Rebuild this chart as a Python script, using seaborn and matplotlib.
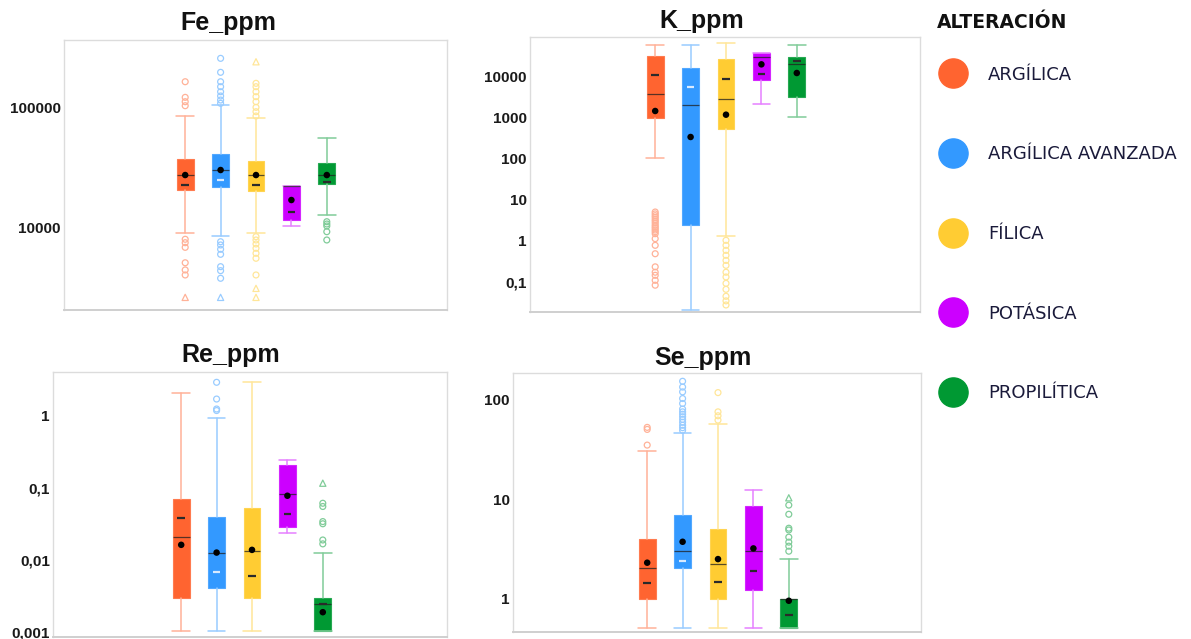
"""Diagramas de caja por tipo de alteración (Fe, K, Re, Se en ppm)."""

import math

import matplotlib.pyplot as plt
import numpy as np
import pandas as pd
import seaborn as sns
from matplotlib.lines import Line2D
from matplotlib.ticker import FixedLocator, FuncFormatter, LogLocator, NullFormatter

# ---------------------------------------------------------------- datos
GRUPOS = ["ARGÍLICA", "ARGÍLICA AVANZADA", "FÍLICA", "POTÁSICA", "PROPILÍTICA"]
COLORES = ["#FF6430", "#3399FF", "#FFCC33", "#CC00FF", "#009933"]

# Fe_ppm
FE_BIG_INF = [9040, 8590, 9040, 10390, 12800]
FE_Q1 = [20600, 21930, 20330, 11640, 23100]
FE_MEDIANA = [27400, 30150, 27400, 22240, 27400]
FE_Q3 = [37000, 40640, 36000, 22240, 34250]
FE_BIG_SUP = [84700, 103900, 81600, 22240, 55100]
FE_MEDIA = [27400, 30150, 27400, 17030, 27400]
FE_MEDIA_GEO = [22650, 24930, 22650, 13480, 24140]
FE_ATIPICOS = [
    [161800, 120200, 110600, 102500, 8070, 7560, 6920, 5160, 4500, 4090],
    [252500, 193500, 161800, 147200, 133700, 123300, 114200, 107300,
     7700, 7240, 6670, 6060, 4790, 4440, 3840],
    [157000, 147200, 133700, 121700, 110600, 99400, 91450, 84250,
     8480, 7960, 7380, 6800, 6180, 5620, 4090],
    [],
    [11270, 10790, 10390, 9320, 7960],
]
FE_EXTREMOS = [[2670], [2670], [236600, 3170, 2670], [], []]

# K_ppm
K_BIG_INF = [106, 0.0207, 1.28, 2190, 1040]
K_Q1 = [984, 2.38, 540, 8450, 3200]
K_MEDIANA = [3850, 2005, 2900, 30200, 20750]
K_Q3 = [31500, 16600, 27500, 38400, 30200]
K_BIG_SUP = [58400, 58400, 66400, 38400, 58400]
K_MEDIA = [1456, 338, 1183, 20000, 12300]
K_MEDIA_GEO = [10800, 5610, 8940, 11450, 24150]
K_ATIPICOS = [
    [5.0, 4.5, 4.07, 3.7, 3.3, 3.0, 2.7, 2.4, 2.19, 2.0, 1.82, 1.65, 1.48,
     1.12, 0.77, 0.48, 0.23, 0.17, 0.143, 0.108, 0.082],
    [],
    [1.02, 0.77, 0.58, 0.44, 0.33, 0.25, 0.17, 0.13, 0.091, 0.065, 0.044,
     0.034, 0.027],
    [],
    [],
]
K_EXTREMOS = [[], [], [], [], []]

# Re_ppm
RE_BIG_INF = [0.00102, 0.00102, 0.00102, 0.0233, 0.00102]
RE_Q1 = [0.00297, 0.00402, 0.00297, 0.0283, 0.00102]
RE_MEDIANA = [0.0209, 0.01256, 0.0131, 0.0822, 0.00241]
RE_Q3 = [0.0694, 0.039, 0.052, 0.209, 0.00292]
RE_BIG_SUP = [2.11, 0.93, 3.0, 0.244, 0.0123]
RE_MEDIA = [0.0161, 0.01256, 0.0137, 0.0776, 0.00186]
RE_MEDIA_GEO = [0.0377, 0.0067, 0.0060, 0.0434, 0.00241]
RE_ATIPICOS = [
    [],
    [2.94, 1.72, 1.25, 1.19],
    [],
    [],
    [0.061, 0.055, 0.0339, 0.0316, 0.0188, 0.0166],
]
RE_EXTREMOS = [[], [], [], [], [0.116]]

# Se_ppm
SE_BIG_INF = [0.505, 0.505, 0.505, 0.505, 0.505]
SE_Q1 = [0.993, 2.02, 0.993, 1.22, 0.505]
SE_MEDIANA = [2.02, 3.01, 2.21, 3.01, 0.993]
SE_Q3 = [3.97, 6.91, 4.97, 8.57, 0.993]
SE_BIG_SUP = [30.5, 46.2, 56.5, 12.2, 2.50]
SE_MEDIA = [2.30, 3.73, 2.50, 3.20, 0.955]
SE_MEDIA_GEO = [1.43, 2.41, 1.48, 1.91, 0.68]
SE_ATIPICOS = [
    [52.4, 50.0, 34.8],
    [152, 133, 119, 102, 91, 80, 75, 71, 67, 63, 59, 55, 52, 49],
    [117, 75, 68.5, 62],
    [],
    [8.7, 7.04, 5.1, 4.9, 4.15, 3.7, 3.37, 3.0],
]
SE_EXTREMOS = [[], [], [], [], [10.3]]

FE_TICKS = [10000, 100000]
K_TICKS = [0.1, 1, 10, 100, 1000, 10000]
RE_TICKS = [0.001, 0.01, 0.1, 1]
SE_TICKS = [1, 10, 100]

# ---------------------------------------------------------------- layout (px)
W, H = 1191, 639
SEP_PX = 35.4  # distancia entre cajas
PANELES = [
    # titulo, (izq, der, arriba, abajo), centro caja media, ylim, titulo (x, base)
    ("Fe_ppm", (64, 447, 40, 310), 256, (2100, 358000), (228, 30)),
    ("K_ppm", (530, 920, 37, 312), 726, (0.0182, 92900), (702, 28)),
    ("Re_ppm", (53, 447, 372, 637), 252, (0.00084, 4.09), (231, 362)),
    ("Se_ppm", (513, 921, 373, 632), 718, (0.464, 184), (703, 365)),
]
LEY_FS = 13


def _aclarar(color, f=0.5):
    rgb = np.array(plt.matplotlib.colors.to_rgb(color))
    return tuple(rgb + (1 - rgb) * f)


def _fmt(v, pos):
    if v >= 1:
        return f"{v:.0f}"
    dec = int(round(-math.log10(v)))
    return f"{v:.{dec}f}".replace(".", ",")


def _panel(ax, datos, ticks, ylim, xlim):
    big_inf, q1, med, q3, big_sup, media, geo, atip, extr = datos
    n = len(GRUPOS)
    pos = np.arange(n)
    stats = [
        dict(whislo=big_inf[i], q1=q1[i], med=med[i], q3=q3[i],
             whishi=big_sup[i], fliers=[])
        for i in range(n)
    ]
    ax.set_yscale("log")
    art = ax.bxp(stats, positions=pos, widths=0.48, capwidths=0.5,
                 patch_artist=True, showfliers=False,
                 medianprops=dict(color="#202020", linewidth=0.9, alpha=0.75),
                 whiskerprops=dict(linewidth=1.1),
                 capprops=dict(linewidth=1.1))
    for i, c in enumerate(COLORES):
        claro = _aclarar(c, 0.5)
        art["boxes"][i].set_facecolor(c)
        art["boxes"][i].set_edgecolor(_aclarar(c, 0.15))
        art["boxes"][i].set_linewidth(0.8)
        for k in (2 * i, 2 * i + 1):
            art["whiskers"][k].set_color(claro)
            art["caps"][k].set_color(claro)
        if atip[i]:
            ax.scatter(np.full(len(atip[i]), pos[i]), atip[i], s=18,
                       facecolors="none", edgecolors=claro, linewidths=0.9,
                       zorder=3)
        if extr[i]:
            ax.scatter(np.full(len(extr[i]), pos[i]), extr[i], s=20,
                       marker="^", facecolors="none", edgecolors=claro,
                       linewidths=0.9, zorder=3)

    df = pd.DataFrame({"pos": pos, "media": media, "geo": geo})
    sns.scatterplot(data=df, x="pos", y="media", color="black", s=22,
                    edgecolor="none", zorder=5, ax=ax, legend=False)
    col_geo = ["#d8eaff" if g == "ARGÍLICA AVANZADA" else "#2a2a2a"
               for g in GRUPOS]
    ax.scatter(pos, geo, marker="_", s=30, c=col_geo, linewidths=1.6,
               zorder=4)

    ax.set_xlim(*xlim)
    ax.set_ylim(*ylim)
    ax.set_xticks([])
    ax.set_xlabel("")
    ax.set_ylabel("")
    ax.yaxis.set_major_locator(FixedLocator(ticks))
    ax.yaxis.set_major_formatter(FuncFormatter(_fmt))
    ax.yaxis.set_minor_locator(LogLocator(base=10, subs=np.arange(2, 10)))
    ax.yaxis.set_minor_formatter(NullFormatter())
    ax.tick_params(axis="y", which="major", length=2, width=0.6,
                   color="#d0d0d0", pad=0.3, labelsize=11, labelcolor="#1a1a1a")
    ax.tick_params(axis="y", which="minor", length=2, width=0.5,
                   color="#e0e0e0")
    for lab in ax.get_yticklabels():
        lab.set_fontweight("bold")
    for s in ax.spines.values():
        s.set_color("#dcdcdc")
        s.set_linewidth(1.0)
    ax.spines["bottom"].set_color("#cfcfcf")
    ax.spines["bottom"].set_linewidth(1.4)


sns.set_style("white")
plt.rcParams["font.family"] = ["Liberation Sans", "DejaVu Sans"]

fig = plt.figure(figsize=(W / 100, H / 100), dpi=100)

DATOS = [
    (FE_BIG_INF, FE_Q1, FE_MEDIANA, FE_Q3, FE_BIG_SUP, FE_MEDIA, FE_MEDIA_GEO,
     FE_ATIPICOS, FE_EXTREMOS),
    (K_BIG_INF, K_Q1, K_MEDIANA, K_Q3, K_BIG_SUP, K_MEDIA, K_MEDIA_GEO,
     K_ATIPICOS, K_EXTREMOS),
    (RE_BIG_INF, RE_Q1, RE_MEDIANA, RE_Q3, RE_BIG_SUP, RE_MEDIA, RE_MEDIA_GEO,
     RE_ATIPICOS, RE_EXTREMOS),
    (SE_BIG_INF, SE_Q1, SE_MEDIANA, SE_Q3, SE_BIG_SUP, SE_MEDIA, SE_MEDIA_GEO,
     SE_ATIPICOS, SE_EXTREMOS),
]
TICKS = [FE_TICKS, K_TICKS, RE_TICKS, SE_TICKS]

for (titulo, (l, r, t, b), centro, ylim, (tx, ty)), datos, ticks in zip(
        PANELES, DATOS, TICKS):
    ax = fig.add_axes([l / W, 1 - b / H, (r - l) / W, (b - t) / H])
    xlim = (2 - (centro - l) / SEP_PX, 2 + (r - centro) / SEP_PX)
    _panel(ax, datos, ticks, ylim, xlim)
    fig.text(tx / W, 1 - ty / H, titulo, ha="center", va="baseline",
             fontsize=18, fontweight="bold", color="#111111")

# leyenda
fig.text(937 / W, 1 - 28 / H, "ALTERACIÓN", ha="left", va="baseline",
         family="DejaVu Sans", fontsize=13.5, fontweight="bold",
         color="#111111")
handles = [Line2D([], [], linestyle="none", marker="o", markersize=21,
                  markerfacecolor=c, markeredgecolor=c) for c in COLORES]
leg = fig.legend(handles, GRUPOS, loc="upper left",
                 bbox_to_anchor=(938.5 / W, 1 - 65.5 / H), frameon=False,
                 prop=dict(family="DejaVu Sans", size=LEY_FS),
                 labelspacing=3.42, handlelength=1.6, handletextpad=1.13,
                 borderaxespad=0, borderpad=0)
for txt in leg.get_texts():
    txt.set_color("#1a1a3a")

fig.savefig("out.png", dpi=100)
